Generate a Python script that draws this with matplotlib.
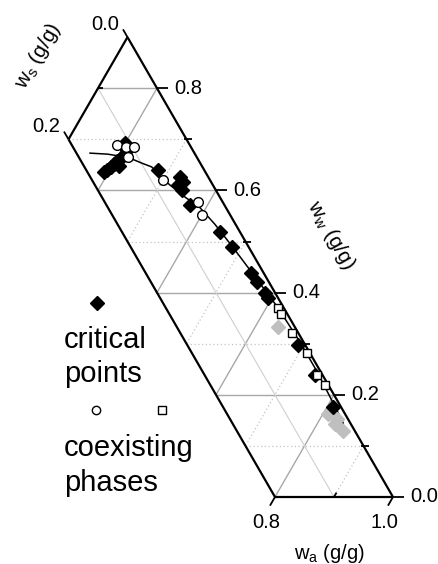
import numpy as np
import matplotlib
matplotlib.use('Agg')
import matplotlib.pyplot as plt

plt.rcParams['font.family'] = ['Liberation Sans', 'DejaVu Sans']
plt.rcParams['mathtext.fontset'] = 'custom'
plt.rcParams['mathtext.rm'] = 'Liberation Sans'
plt.rcParams['mathtext.it'] = 'Liberation Sans:italic'

# ---- data: mass fractions (w_s, w_w); w_a = 1 - w_s - w_w ----
crit_ws = [0.108, 0.172, 0.165, 0.155, 0.147, 0.139, 0.141, 0.129, 0.119, 0.111,
           0.078, 0.048, 0.048, 0.059, 0.057, 0.058, 0.034, 0.028, 0.022, 0.020,
           0.017, 0.017, 0.012, 0.013, 0.014]
crit_ww = [0.693, 0.636, 0.640, 0.646, 0.652, 0.658, 0.648, 0.663, 0.671, 0.679,
           0.640, 0.626, 0.616, 0.611, 0.601, 0.571, 0.519, 0.489, 0.438, 0.421,
           0.399, 0.389, 0.298, 0.239, 0.176]

circ_ws = [0.123, 0.110, 0.097, 0.117, 0.080, 0.042, 0.048]
circ_ww = [0.689, 0.685, 0.685, 0.665, 0.620, 0.577, 0.552]

sq_ws = [0.010, 0.011, 0.011, 0.005, 0.009, 0.006]
sq_ww = [0.370, 0.358, 0.321, 0.282, 0.239, 0.219]

gray_ws = [0.029, 0.029, 0.019, 0.027, 0.020]
gray_ww = [0.333, 0.162, 0.153, 0.143, 0.129]

curve_ws = [0.177, 0.148, 0.129, 0.114, 0.100, 0.086, 0.080, 0.073, 0.059, 0.044,
            0.035, 0.027, 0.018, 0.010, 0.006, 0.006, 0.010, 0.012]
curve_ww = [0.673, 0.671, 0.667, 0.663, 0.654, 0.646, 0.628, 0.611, 0.587, 0.566,
            0.534, 0.489, 0.429, 0.372, 0.305, 0.245, 0.174, 0.145]

ww_major = [0.0, 0.2, 0.4, 0.6, 0.8]
ww_minor = [0.1, 0.3, 0.5, 0.7]
ws_major = [0.0, 0.2]
ws_minor = [0.1]
wa_major = [0.8, 1.0]
wa_minor = [0.9]

S_MAX = 0.2   # shown range of w_s
A_MIN = 0.1   # shown range of w_a


def to_xy(ws, ww):
    ws = np.asarray(ws, float)
    ww = np.asarray(ww, float)
    wa = 1.0 - ws - ww
    return wa + 0.5 * ww, ww * np.sqrt(3) / 2


fig = plt.figure(figsize=(4.39, 5.64), dpi=100)
ax = fig.add_axes([0, 0, 1, 1])
ax.set_xlim(0.3339, 1.0780)
ax.set_ylim(-0.1136, 0.8424)
ax.axis('off')
PX = 1 / 590.0  # one pixel in data units

solid_kw = dict(color='#a8a8a8', lw=1.0, zorder=1)
dot_kw = dict(color='#c4c4c4', lw=0.9, ls=(0, (1, 2)), zorder=1)


def seg(p, q, **kw):
    ax.plot([p[0], q[0]], [p[1], q[1]], solid_capstyle='butt', **kw)


# constant w_w grid
for i in range(1, 9):
    w = i / 10
    smax = min(S_MAX, 1 - A_MIN - w)
    seg(to_xy(0, w), to_xy(smax, w), **(solid_kw if i % 2 == 0 else dot_kw))
# constant w_a grid
for i in range(2, 10):
    a = i / 10
    send = min(S_MAX, 1 - a)
    seg(to_xy(0, 1 - a), to_xy(send, 1 - a - send), **(solid_kw if i % 2 == 0 else dot_kw))
# constant w_s grid
seg(to_xy(0.1, 1 - A_MIN - 0.1), to_xy(0.1, 0.0), color='#cfcfcf', lw=0.8, zorder=1)

# frame
edge_kw = dict(color='black', lw=1.6, zorder=3)
seg(to_xy(0, 1 - A_MIN), to_xy(0, 0), **edge_kw)
seg(to_xy(0, 0), to_xy(S_MAX, 0), **edge_kw)
seg(to_xy(S_MAX, 0), to_xy(S_MAX, 1 - A_MIN - S_MAX), **edge_kw)
seg(to_xy(S_MAX, 1 - A_MIN - S_MAX), to_xy(0, 1 - A_MIN), **edge_kw)

tick_kw = dict(color='black', lw=1.3, zorder=3)
u_w = np.array([1.0, 0.0])
u_s = np.array([-0.5, np.sqrt(3) / 2])
u_a = np.array([-0.5, -np.sqrt(3) / 2])
fs_tick = 14.5
for w in ww_major:
    p = np.array(to_xy(0, w))
    seg(p, p + u_w * 11 * PX, **tick_kw)
    ax.text(*(p + u_w * 17 * PX), f'{w:.1f}', ha='left', va='center', fontsize=fs_tick)
for w in ww_minor:
    p = np.array(to_xy(0, w))
    seg(p - u_w * 2 * PX, p + u_w * 6 * PX, **tick_kw)
for s in ws_major:
    p = np.array(to_xy(s, 1 - A_MIN - s))
    seg(p, p + u_s * 9 * PX, **tick_kw)
    ax.text(p[0] - 22 * PX, p[1] + 13 * PX, f'{s:.1f}', ha='center', va='center', fontsize=fs_tick)
for s in ws_minor:
    p = np.array(to_xy(s, 1 - A_MIN - s))
    seg(p, p + u_w * 5 * PX, **tick_kw)
for a in wa_major:
    p = np.array(to_xy(1 - a, 0))
    seg(p, p + u_a * 10 * PX, **tick_kw)
    ax.text(p[0] - 9 * PX, p[1] - 26 * PX, f'{a:.1f}', ha='center', va='center', fontsize=fs_tick)
for a in wa_minor:
    p = np.array(to_xy(1 - a, 0))
    seg(p, p - u_a * 5 * PX, **tick_kw)

fs_lab = 15
ax.text(0.398, 0.748, r'$\mathregular{w_s}$ (g/g)', rotation=60, ha='center', va='center',
        rotation_mode='anchor', fontsize=fs_lab)
ax.text(0.895, 0.444, r'$\mathregular{w_w}$ (g/g)', rotation=-60, ha='center', va='center',
        rotation_mode='anchor', fontsize=fs_lab)
ax.text(0.893, -0.1055, r'$\mathregular{w_a}$ (g/g)', ha='center', va='baseline', fontsize=14.5)

# data
cx, cy = to_xy(curve_ws, curve_ww)
ax.plot(cx, cy, color='black', lw=1.1, zorder=4)
gx, gy = to_xy(gray_ws, gray_ww)
ax.plot(gx, gy, 'D', ms=7.3, color='#bfbfbf', mec='#bfbfbf', zorder=5)
kx, ky = to_xy(crit_ws, crit_ww)
ax.plot(kx, ky, 'D', ms=7.3, color='black', zorder=6)
ox, oy = to_xy(circ_ws, circ_ww)
ax.plot(ox, oy, 'o', ms=7.0, mfc='white', mec='black', mew=1.0, zorder=7)
qx, qy = to_xy(sq_ws, sq_ww)
ax.plot(qx, qy, 's', ms=5.6, mfc='white', mec='black', mew=1.0, zorder=7)

# legend (figure pixel positions)
W, H = 439, 564
def fp(px, py):
    return px / W, 1 - py / H

ax.plot(*fp(97, 303), 'D', ms=7.0, color='black', transform=fig.transFigure, clip_on=False)
ax.plot(*fp(96, 410), 'o', ms=6.0, mfc='white', mec='black', mew=1.0, transform=fig.transFigure, clip_on=False)
ax.plot(*fp(162, 410), 's', ms=5.2, mfc='white', mec='black', mew=1.0, transform=fig.transFigure, clip_on=False)
fs_leg = 21
for txt, py in [('critical', 348), ('points', 382), ('coexisting', 456), ('phases', 491)]:
    fig.text(*fp(64, py), txt, ha='left', va='baseline', fontsize=fs_leg)

fig.savefig('out.png', dpi=100)
